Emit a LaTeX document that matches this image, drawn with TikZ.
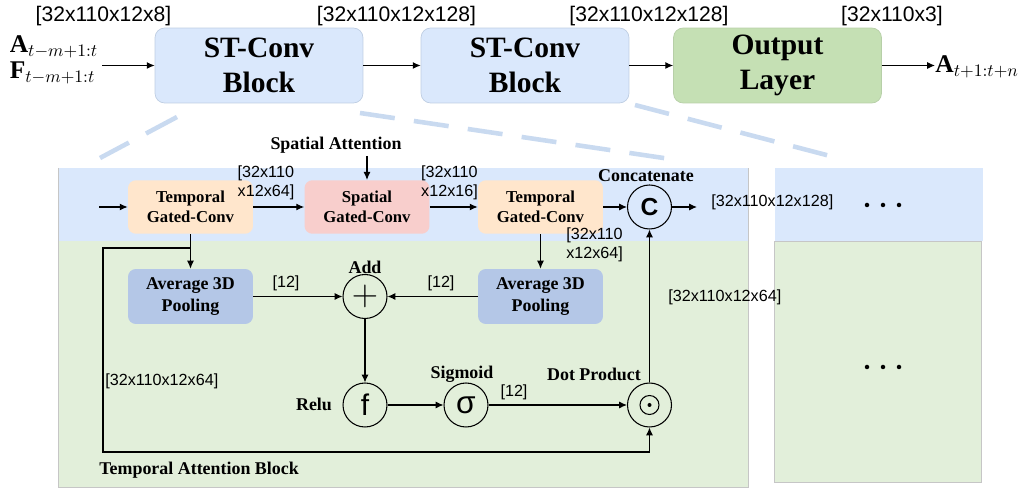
\documentclass[tikz,border=0pt]{standalone}
\usepackage{fontspec}
\setmainfont{Liberation Serif}
\setsansfont{Liberation Sans}
\usetikzlibrary{arrows.meta}

\definecolor{stblue}{HTML}{DAE8FC}
\definecolor{stline}{HTML}{BFCEE3}
\definecolor{outgreen}{HTML}{C5E0B4}
\definecolor{outline}{HTML}{B7CFA8}
\definecolor{tgorange}{HTML}{FFE6CC}
\definecolor{sgpink}{HTML}{F8CECC}
\definecolor{apblue}{HTML}{B4C7E7}
\definecolor{panelblue}{HTML}{DAE8FC}
\definecolor{panelgreen}{HTML}{E2EFDA}
\definecolor{dashblue}{HTML}{C9DAF0}

\begin{document}
\begin{tikzpicture}[x=0.02cm, y=-0.02cm,
    arr/.style={-{Latex[length=4.5pt,width=4pt]}, line width=0.6pt, black},
    blkbox/.style={draw=stline, fill=stblue, rounded corners=5.5pt, minimum width=4.16cm, minimum height=1.5cm,
        align=center, font=\bfseries\fontsize{16.8}{19.5}\selectfont},
    gconv/.style={rounded corners=4.5pt, minimum width=2.5cm, minimum height=1.07cm,
        align=center, font=\bfseries\fontsize{9.5}{11.3}\selectfont},
    pool/.style={gconv, fill=apblue, minimum height=1.1cm, font=\bfseries\fontsize{10.2}{12.5}\selectfont},
    op/.style={circle, draw, line width=0.6pt, minimum size=0.88cm, inner sep=0pt},
    dimlab/.style={font=\sffamily\fontsize{9.2}{10.8}\selectfont, align=left, inner sep=0pt},
    toplab/.style={font=\sffamily\fontsize{12}{14}\selectfont, inner sep=0pt},
    lab/.style={font=\bfseries\fontsize{10.2}{12}\selectfont, inner sep=0pt},
    dashln/.style={dashblue, line width=2.6pt, dash pattern=on 20pt off 11pt}]
    \useasboundingbox (0,0) rectangle (1029,489);

    % Fondos de los bloques
    \fill[panelblue] (58,168) rectangle (748,241);
    \fill[panelgreen] (58,241) rectangle (748,487);
    \draw[gray!45] (58,168) -- (58,487) -- (748,487) -- (748,168);
    \fill[panelblue] (775,168) rectangle (983,241);
    \filldraw[fill=panelgreen, draw=gray!45] (774,241) rectangle (981,482);

    % Lineas de zoom
    \draw[dashln] (177,117) -- (100,158);
    \draw[dashln] (360,113) -- (677,160);
    \draw[dashln] (635,105) -- (834,157);

    % Fila superior
    \node[blkbox] (blk1) at (259,65.5) {ST-Conv\\Block};
    \node[blkbox] (blk2) at (525,65.5) {ST-Conv\\Block};
    \node[blkbox, draw=outline, fill=outgreen] (outl) at (777.5,65.5) {Output\\Layer};
    \node[font=\fontsize{14.5}{15}\selectfont, align=left, inner sep=0pt] (inp) at (54,60) {$\mathbf{A}_{t-m+1:t}$\\$\mathbf{F}_{t-m+1:t}$};
    \node[font=\fontsize{14.5}{15}\selectfont, inner sep=0pt, anchor=west] (outp) at (935,67) {$\mathbf{A}_{t+1:t+n}$};

    \node[toplab] (s1) at (103.5,16) {[32x110x12x8]};
    \node[toplab] (s2) at (396.5,16) {[32x110x12x128]};
    \node[toplab] (s3) at (649,16) {[32x110x12x128]};
    \node[toplab] (s4) at (892,16) {[32x110x3]};

    \draw[arr] ([xshift=2pt]inp.east |- blk1.west) -- (blk1.west);
    \draw[arr] (blk1) -- (blk2);
    \draw[arr] (blk2) -- (outl);
    \draw[arr] (outl.east) -- (outl.east -| outp.west);

    % Bloque de atencion
    \node[gconv, fill=tgorange] (tg1) at (190.5,207) {Temporal\\Gated-Conv};
    \node[gconv, fill=sgpink] (sg) at (367,207) {Spatial\\Gated-Conv};
    \node[gconv, fill=tgorange] (tg2) at (540.5,207) {Temporal\\Gated-Conv};
    \node[pool] (ap1) at (190.5,296.5) {Average 3D\\Pooling};
    \node[pool] (ap2) at (540.5,296.5) {Average 3D\\Pooling};

    \node[op, font=\sffamily\bfseries\fontsize{14}{14}\selectfont] (cat) at (649.5,207) {C};
    \node[op, font=\fontsize{21}{21}\selectfont] (add) at (365,296.5) {$+$};
    \node[op, font=\sffamily\fontsize{17}{17}\selectfont] (relu) at (365,405) {f};
    \node[op, font=\sffamily\fontsize{18}{18}\selectfont] (sig) at (466,405) {σ};
    \node[op] (dotp) at (649.5,405) {};
    \draw[line width=0.6pt] (dotp.center) circle (0.19cm);
    \fill (dotp.center) circle (0.04cm);

    % Etiquetas
    \node[lab] (spa) at (336,145) {Spatial Attention};
    \node[lab] (catl) at (646,176) {Concatenate};
    \node[lab] (addl) at (365,267) {Add};
    \node[lab] (relul) at (314,404) {Relu};
    \node[lab] (sigl) at (462,374) {Sigmoid};
    \node[lab] (dotl) at (594,374) {Dot Product};
    \node[lab, anchor=west] (tab) at (99,470) {Temporal Attention Block};

    \node[dimlab] (d1) at (266,183) {[32x110\\x12x64]};
    \node[dimlab] (d2) at (449.5,183) {[32x110\\x12x16]};
    \node[dimlab, anchor=west] (d3) at (711,202) {[32x110x12x128]};
    \node[dimlab] (d4) at (286,283) {[12]};
    \node[dimlab] (d5) at (441,283) {[12]};
    \node[dimlab, anchor=west] (d6) at (566,245) {[32x110\\x12x64]};
    \node[dimlab, anchor=west] (d7) at (105,381) {[32x110x12x64]};
    \node[dimlab] (d8) at (514,392) {[12]};
    \node[dimlab, anchor=west] (d9) at (668,297) {[32x110x12x64]};

    % Conexiones
    \coordinate (inA) at (99,207);
    \coordinate (spaIn) at (367,156);
    \coordinate (catOut) at (697,207);
    \coordinate (brA) at (190.5,248);
    \coordinate (brB) at (103,452);

    \draw[arr] (inA) -- (tg1.west);
    \draw[arr] (spaIn) -- (sg.north);
    \draw[arr] (tg1) -- (sg);
    \draw[arr] (sg) -- (tg2);
    \draw[arr] (tg2) -- (cat);
    \draw[arr] (cat) -- (catOut);
    \draw[arr] (tg1) -- (ap1);
    \draw[arr] (tg2) -- (ap2);
    \draw[arr] (ap1) -- (add);
    \draw[arr] (ap2) -- (add);
    \draw[arr] (add) -- (relu);
    \draw[arr] (relu) -- (sig);
    \draw[arr] (sig) -- (dotp);
    \draw[arr] (dotp) -- (cat);
    \draw[arr] (brA) -| (brB) -| (dotp.south);

    % Puntos suspensivos
    \foreach \x in {867,883,899} {
        \fill (\x,205) circle (0.045cm);
        \fill (\x,367) circle (0.045cm);
    }
\end{tikzpicture}
\end{document}
